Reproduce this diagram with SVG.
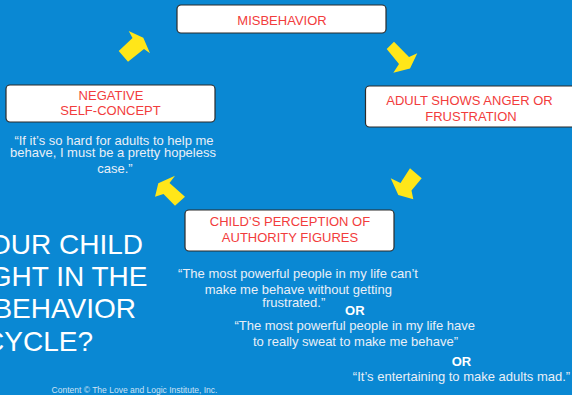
<svg xmlns="http://www.w3.org/2000/svg" width="572" height="395" viewBox="0 0 572 395">
<style>
.bg{fill:#0a88d3}
.box{fill:#ffffff;stroke:#2b2b2b;stroke-width:1.2}
.lbl{font-family:"Liberation Sans",Arial,sans-serif;font-size:13px;fill:#f23c3c;text-anchor:middle}
.q{font-family:"Liberation Sans",Arial,sans-serif;font-size:13px;fill:#e9eff7;text-anchor:middle}
.or{font-family:"Liberation Sans",Arial,sans-serif;font-size:13px;font-weight:bold;fill:#ffffff;text-anchor:middle}
.title{font-family:"Liberation Sans",Arial,sans-serif;font-size:28px;fill:#ffffff;text-anchor:end}
.foot{font-family:"Liberation Sans",Arial,sans-serif;font-size:8.5px;fill:#cfe2f4;text-anchor:middle}
.arrow{fill:#ffe619}
</style>
<rect class="bg" x="0" y="0" width="572" height="395"/>

<g id="connectors">
<polygon class="arrow" points="128.7,31 143.3,37.7 150,53.3 144,49 128,61.7 118.7,51 132.5,38"/>
<polygon class="arrow" points="386.7,49 394,41.7 409,57 417.3,53.3 410,68.5 393.3,72.7 399,64"/>
<polygon class="arrow" points="410,168.3 421.7,178.3 411.5,190.5 413.3,199.3 398.3,195 390.7,178.3 400.5,183"/>
<polygon class="arrow" points="175,175.7 169.5,183 185,196.7 175,205.7 163.5,194 155,196.7 158.3,183.3"/>
</g>

<g id="misbehavior">
<rect class="box" x="177" y="5" width="209" height="28" rx="4"/>
<text class="lbl" x="282" y="24.5">MISBEHAVIOR</text>
</g>

<g id="adult-anger">
<rect class="box" x="365.5" y="86" width="212" height="41" rx="4"/>
<text class="lbl" x="469.5" y="105">ADULT SHOWS ANGER OR</text>
<text class="lbl" x="471" y="121">FRUSTRATION</text>
</g>

<g id="child-perception">
<rect class="box" x="185" y="210" width="209" height="41" rx="4"/>
<text class="lbl" x="290" y="225.5">CHILD’S PERCEPTION OF</text>
<text class="lbl" x="290" y="242">AUTHORITY FIGURES</text>
</g>

<g id="negative-self-concept">
<rect class="box" x="6" y="85" width="209" height="37" rx="4"/>
<text class="lbl" x="111" y="99.5">NEGATIVE</text>
<text class="lbl" x="110.5" y="115">SELF-CONCEPT</text>
</g>

<g id="quote-negative">
<text class="q" x="114" y="144.5">“If it’s so hard for adults to help me</text>
<text class="q" x="113" y="157.3">behave, I must be a pretty hopeless</text>
<text class="q" x="115" y="173.3">case.”</text>
</g>

<g id="quote-child">
<text class="q" x="298" y="277.6">“The most powerful people in my life can’t</text>
<text class="q" x="298.3" y="293.6">make me behave without getting</text>
<text class="q" x="293.8" y="307">frustrated.”</text>
<text class="or" x="354.8" y="315">OR</text>
<text class="q" x="354.7" y="330.3">“The most powerful people in my life have</text>
<text class="q" x="355.5" y="346">to really sweat to make me behave”</text>
<text class="or" x="461.5" y="366">OR</text>
<text class="q" x="461.5" y="381">“It’s entertaining to make adults mad.”</text>
</g>

<g id="title">
<text class="title" x="143" y="254">OUR CHILD</text>
<text class="title" x="147.5" y="286">GHT IN THE</text>
<text class="title" x="136" y="318">BEHAVIOR</text>
<text class="title" x="93" y="351">CYCLE?</text>
</g>

<text class="foot" x="134.5" y="392.5">Content © The Love and Logic Institute, Inc.</text>
</svg>
